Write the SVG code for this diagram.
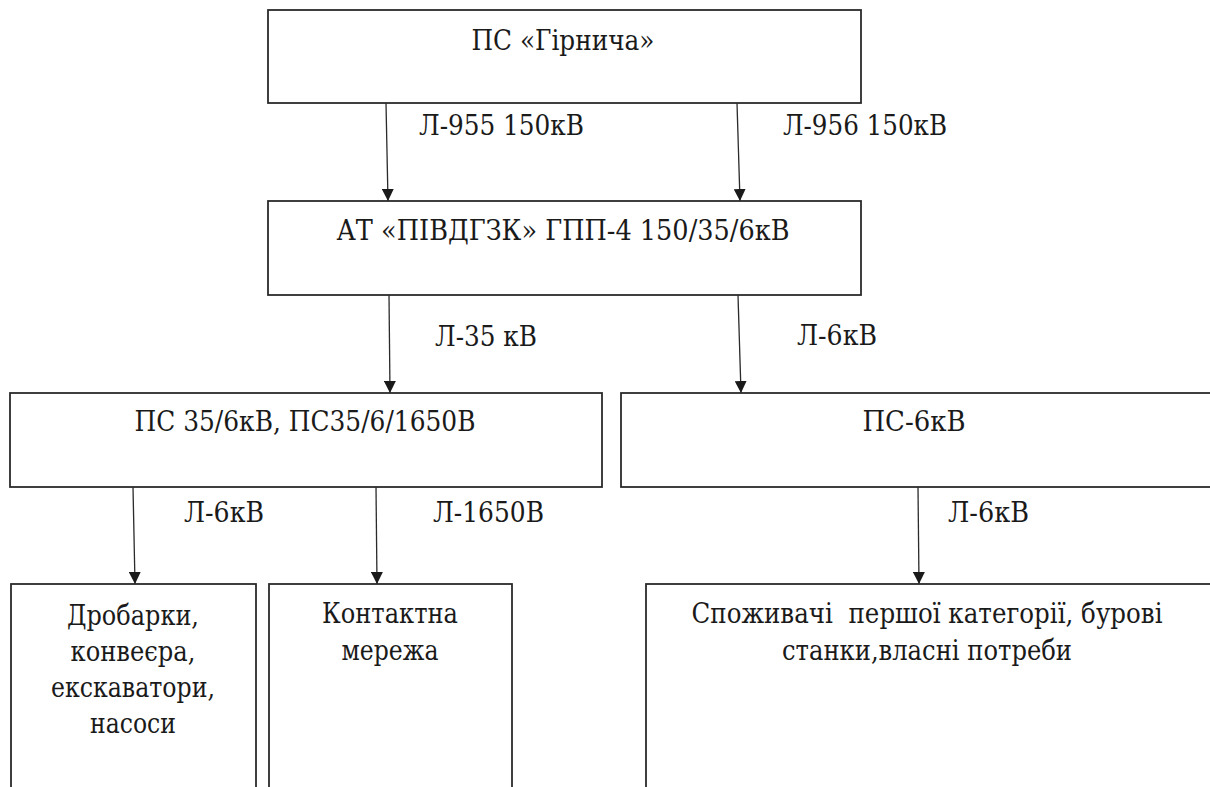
<svg xmlns="http://www.w3.org/2000/svg" width="1210" height="787" viewBox="0 0 1210 787">
<style>
.box{fill:#ffffff;stroke:#2b2b2b;stroke-width:1.8}
.t{font-family:'DejaVu Serif','Liberation Serif',serif;font-size:27px;fill:#1a1a1a;white-space:pre}
.c{text-anchor:middle}
.ln{stroke:#2b2b2b;stroke-width:1.3;fill:none}
</style>
<defs>
<marker id="ah" markerUnits="userSpaceOnUse" markerWidth="12" markerHeight="12" viewBox="0 0 12 12" refX="12" refY="6" orient="auto">
<path d="M0,0 L12,6 L0,12 Z" fill="#1a1a1a"/>
</marker>
</defs>
<rect width="1210" height="787" fill="#ffffff"/>
<g id="connectors">
<path class="ln" d="M386,103 L388,201" marker-end="url(#ah)"/>
<path class="ln" d="M737,103 L740,201" marker-end="url(#ah)"/>
<path class="ln" d="M389,295 L390,393" marker-end="url(#ah)"/>
<path class="ln" d="M738,295 L741,393" marker-end="url(#ah)"/>
<path class="ln" d="M133,487 L135,584" marker-end="url(#ah)"/>
<path class="ln" d="M376,487 L377,584" marker-end="url(#ah)"/>
<path class="ln" d="M918,487 L919,584" marker-end="url(#ah)"/>
<text class="t" x="419" y="135" textLength="165" lengthAdjust="spacingAndGlyphs">Л-955 150кВ</text>
<text class="t" x="783" y="135" textLength="164" lengthAdjust="spacingAndGlyphs">Л-956 150кВ</text>
<text class="t" x="435" y="346" textLength="102" lengthAdjust="spacingAndGlyphs">Л-35 кВ</text>
<text class="t" x="797" y="345" textLength="80" lengthAdjust="spacingAndGlyphs">Л-6кВ</text>
<text class="t" x="184" y="522" textLength="80" lengthAdjust="spacingAndGlyphs">Л-6кВ</text>
<text class="t" x="433" y="522" textLength="111" lengthAdjust="spacingAndGlyphs">Л-1650В</text>
<text class="t" x="948" y="522" textLength="81" lengthAdjust="spacingAndGlyphs">Л-6кВ</text>
</g>
<g id="node-girnycha">
<rect class="box" x="268" y="10" width="593" height="93"/>
<text class="t c" x="563" y="50" textLength="183" lengthAdjust="spacingAndGlyphs">ПС «Гірнича»</text>
</g>
<g id="node-gpp4">
<rect class="box" x="268" y="201" width="593" height="94"/>
<text class="t c" x="563" y="240" textLength="453" lengthAdjust="spacingAndGlyphs">АТ «ПІВДГЗК» ГПП-4 150/35/6кВ</text>
</g>
<g id="node-ps35">
<rect class="box" x="10" y="393" width="592" height="94"/>
<text class="t c" x="305" y="431" textLength="341" lengthAdjust="spacingAndGlyphs">ПС 35/6кВ, ПС35/6/1650В</text>
</g>
<g id="node-ps6">
<rect class="box" x="621" y="393" width="600" height="94"/>
<text class="t c" x="914" y="431" textLength="103" lengthAdjust="spacingAndGlyphs">ПС-6кВ</text>
</g>
<g id="node-drobarky">
<rect class="box" x="11" y="584" width="245" height="215"/>
<text class="t c" x="133" y="625" textLength="132" lengthAdjust="spacingAndGlyphs">Дробарки,</text>
<text class="t c" x="133" y="661" textLength="125" lengthAdjust="spacingAndGlyphs">конвеєра,</text>
<text class="t c" x="133" y="697" textLength="164" lengthAdjust="spacingAndGlyphs">екскаватори,</text>
<text class="t c" x="133" y="733" textLength="86" lengthAdjust="spacingAndGlyphs">насоси</text>
</g>
<g id="node-kontaktna">
<rect class="box" x="269" y="584" width="243" height="215"/>
<text class="t c" x="390" y="623" textLength="136" lengthAdjust="spacingAndGlyphs">Контактна</text>
<text class="t c" x="390" y="660" textLength="97" lengthAdjust="spacingAndGlyphs">мережа</text>
</g>
<g id="node-spozhyvachi">
<rect class="box" x="646" y="584" width="575" height="215"/>
<text class="t c" x="927" y="623" textLength="471" lengthAdjust="spacingAndGlyphs">Споживачі  першої категорії, бурові</text>
<text class="t c" x="927" y="660" textLength="290" lengthAdjust="spacingAndGlyphs">станки,власні потреби</text>
</g>
</svg>
